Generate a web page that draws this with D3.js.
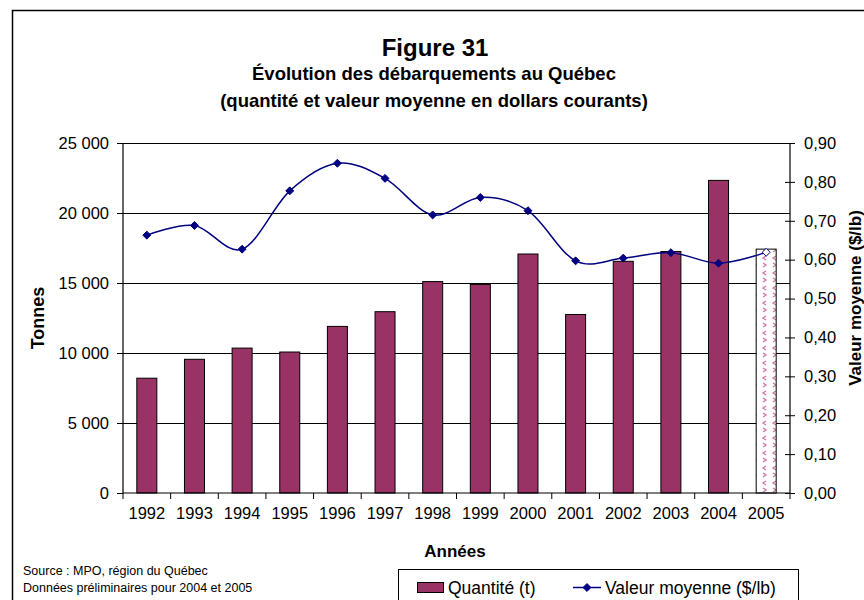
<!DOCTYPE html>
<html>
<head>
<meta charset="utf-8">
<script src="https://cdn.jsdelivr.net/npm/d3@7"></script>
<style>
  body { margin: 0; background: #fff; }
  svg { font-family: "Liberation Sans", Arial, sans-serif; }
</style>
</head>
<body>
<div id="chart"></div>
<script>
// Years on the x axis
const years = ["1992", "1993", "1994", "1995", "1996", "1997", "1998", "1999",
               "2000", "2001", "2002", "2003", "2004", "2005"];
// Landings (tonnes)
const quantite = [8200, 9550, 10350, 10070, 11900, 12950, 15100, 14900,
                  17070, 12750, 16550, 17250, 22330, 17420];
// Average value ($/lb)
const valeur = [0.663, 0.688, 0.627, 0.777, 0.848, 0.809, 0.715, 0.760,
                0.726, 0.597, 0.604, 0.618, 0.591, 0.619];
// Preliminary years (hatched bar / hollow marker)
const preliminaire = ["2005"];

const leftTicks = [0, 5000, 10000, 15000, 20000, 25000];
const rightTicks = [0, 0.1, 0.2, 0.3, 0.4, 0.5, 0.6, 0.7, 0.8, 0.9];

const W = 864, H = 600;
const plot = { left: 123, right: 790, top: 143, bottom: 493 };
const barColor = "#993366";
const lineColor = "#000080";
const tickFont = 16.5;

const svg = d3.select("#chart").append("svg")
  .attr("width", W).attr("height", H);

// pattern for the preliminary bar
const defs = svg.append("defs");
const pat = defs.append("pattern")
  .attr("id", "prelim")
  .attr("patternUnits", "userSpaceOnUse")
  .attr("width", 10).attr("height", 15);
pat.append("rect").attr("width", 10).attr("height", 15).attr("fill", "#fff");
pat.append("path").attr("d", "M6,1 L3,3 L6,5")
  .attr("fill", "none").attr("stroke", "#d07aa5").attr("stroke-width", 1.4);
pat.append("path").attr("d", "M3,8 L6,10 L3,12")
  .attr("fill", "none").attr("stroke", "#d07aa5").attr("stroke-width", 1.4);

// outer frame
svg.append("rect")
  .attr("x", 12.5).attr("y", 10.5)
  .attr("width", W + 20).attr("height", H + 20)
  .attr("fill", "none").attr("stroke", "#000").attr("stroke-width", 1.5);

const x = d3.scaleBand().domain(years).range([plot.left, plot.right]);
const yL = d3.scaleLinear().domain([0, 25000]).range([plot.bottom, plot.top]);
const yR = d3.scaleLinear().domain([0, 0.9]).range([plot.bottom, plot.top]);

const fmtL = d => d3.format(",")(d).replace(/,/g, " ");
const fmtR = d => d.toFixed(2).replace(".", ",");

// gridlines
svg.append("g").selectAll("line")
  .data(leftTicks.filter(d => d > 0))
  .join("line")
  .attr("x1", plot.left).attr("x2", plot.right)
  .attr("y1", d => Math.round(yL(d)) + 0.5).attr("y2", d => Math.round(yL(d)) + 0.5)
  .attr("stroke", "#000").attr("stroke-width", 1);

// bars
const bw = 20;
svg.append("g").selectAll("rect")
  .data(years.map((y, i) => ({ year: y, v: quantite[i] })))
  .join("rect")
  .attr("x", d => x(d.year) + x.bandwidth() / 2 - bw / 2)
  .attr("y", d => yL(d.v))
  .attr("width", bw)
  .attr("height", d => yL(0) - yL(d.v))
  .attr("fill", d => preliminaire.includes(d.year) ? "url(#prelim)" : barColor)
  .attr("stroke", "#000").attr("stroke-width", 1);

// left axis
const gL = svg.append("g").attr("transform", `translate(${plot.left},0)`)
  .call(d3.axisLeft(yL).tickValues(leftTicks).tickFormat(fmtL).tickSize(6).tickPadding(8));
// right axis
const gR = svg.append("g").attr("transform", `translate(${plot.right},0)`)
  .call(d3.axisRight(yR).tickValues(rightTicks).tickFormat(fmtR).tickSize(5).tickPadding(9));
gR.selectAll(".tick line").attr("x1", -5);
// bottom axis
const gB = svg.append("g").attr("transform", `translate(0,${plot.bottom})`)
  .call(d3.axisBottom(x).tickSize(0).tickPadding(14));
gB.append("g").selectAll("line")
  .data(years.concat(["end"]))
  .join("line")
  .attr("x1", (d, i) => plot.left + i * x.step()).attr("x2", (d, i) => plot.left + i * x.step())
  .attr("y1", 0).attr("y2", 6)
  .attr("stroke", "#000");

[gL, gR, gB].forEach(g => {
  g.select(".domain").attr("stroke", "#000").attr("stroke-width", 1.2);
  g.selectAll(".tick line").attr("stroke", "#000");
  g.selectAll("text").attr("font-size", tickFont).attr("fill", "#000")
    .attr("font-family", "Liberation Sans, Arial, sans-serif");
});
gL.select(".domain").attr("d", `M0,${plot.top}V${plot.bottom}`);
gR.select(".domain").attr("d", `M0,${plot.top}V${plot.bottom}`);
gB.select(".domain").attr("d", `M${plot.left},0H${plot.right}`);

// average value line
const pts = years.map((y, i) => ({ year: y, v: valeur[i] }));
const line = d3.line()
  .x(d => x(d.year) + x.bandwidth() / 2)
  .y(d => yR(d.v))
  .curve(d3.curveCardinal.tension(0));
svg.append("path").datum(pts)
  .attr("d", line)
  .attr("fill", "none").attr("stroke", lineColor).attr("stroke-width", 1.5);

const diamond = d3.symbol().type(d3.symbolDiamond2).size(40);
svg.append("g").selectAll("path")
  .data(pts)
  .join("path")
  .attr("transform", d => `translate(${x(d.year) + x.bandwidth() / 2},${yR(d.v)})`)
  .attr("d", diamond)
  .attr("fill", d => preliminaire.includes(d.year) ? "#fff" : lineColor)
  .attr("stroke", lineColor).attr("stroke-width", 1);

// titles
const title = svg.append("g").attr("text-anchor", "middle").attr("font-weight", "bold").attr("fill", "#000");
title.append("text").attr("x", 435).attr("y", 56).attr("font-size", 24).text("Figure 31");
title.append("text").attr("x", 434).attr("y", 80).attr("font-size", 18.5).text("Évolution des débarquements au Québec");
title.append("text").attr("x", 434).attr("y", 107).attr("font-size", 18.5).text("(quantité et valeur moyenne en dollars courants)");

svg.append("text").attr("transform", "translate(44,318) rotate(-90)")
  .attr("text-anchor", "middle").attr("font-weight", "bold").attr("font-size", 18)
  .text("Tonnes");
svg.append("text").attr("transform", "translate(861,298) rotate(-90)")
  .attr("text-anchor", "middle").attr("font-weight", "bold").attr("font-size", 17)
  .text("Valeur moyenne ($/lb)");
svg.append("text").attr("x", 455).attr("y", 557)
  .attr("text-anchor", "middle").attr("font-weight", "bold").attr("font-size", 17)
  .text("Années");

// source notes
svg.append("text").attr("x", 23).attr("y", 575).attr("font-size", 12.5).text("Source : MPO, région du Québec");
svg.append("text").attr("x", 23).attr("y", 592).attr("font-size", 12.5).text("Données préliminaires pour 2004 et 2005");

// legend
const lg = svg.append("g");
lg.append("rect").attr("x", 398.5).attr("y", 569.5).attr("width", 400).attr("height", 40)
  .attr("fill", "#fff").attr("stroke", "#000").attr("stroke-width", 1);
lg.append("rect").attr("x", 417.5).attr("y", 582.5).attr("width", 26).attr("height", 10)
  .attr("fill", barColor).attr("stroke", "#000");
lg.append("text").attr("x", 448).attr("y", 594).attr("font-size", 17.5).text("Quantité (t)");
lg.append("line").attr("x1", 573).attr("x2", 601).attr("y1", 587.5).attr("y2", 587.5)
  .attr("stroke", lineColor).attr("stroke-width", 1.5);
lg.append("path").attr("transform", "translate(587,587.5)").attr("d", diamond)
  .attr("fill", lineColor).attr("stroke", lineColor);
lg.append("text").attr("x", 605).attr("y", 594).attr("font-size", 17.5).text("Valeur moyenne ($/lb)");
</script>
</body>
</html>
